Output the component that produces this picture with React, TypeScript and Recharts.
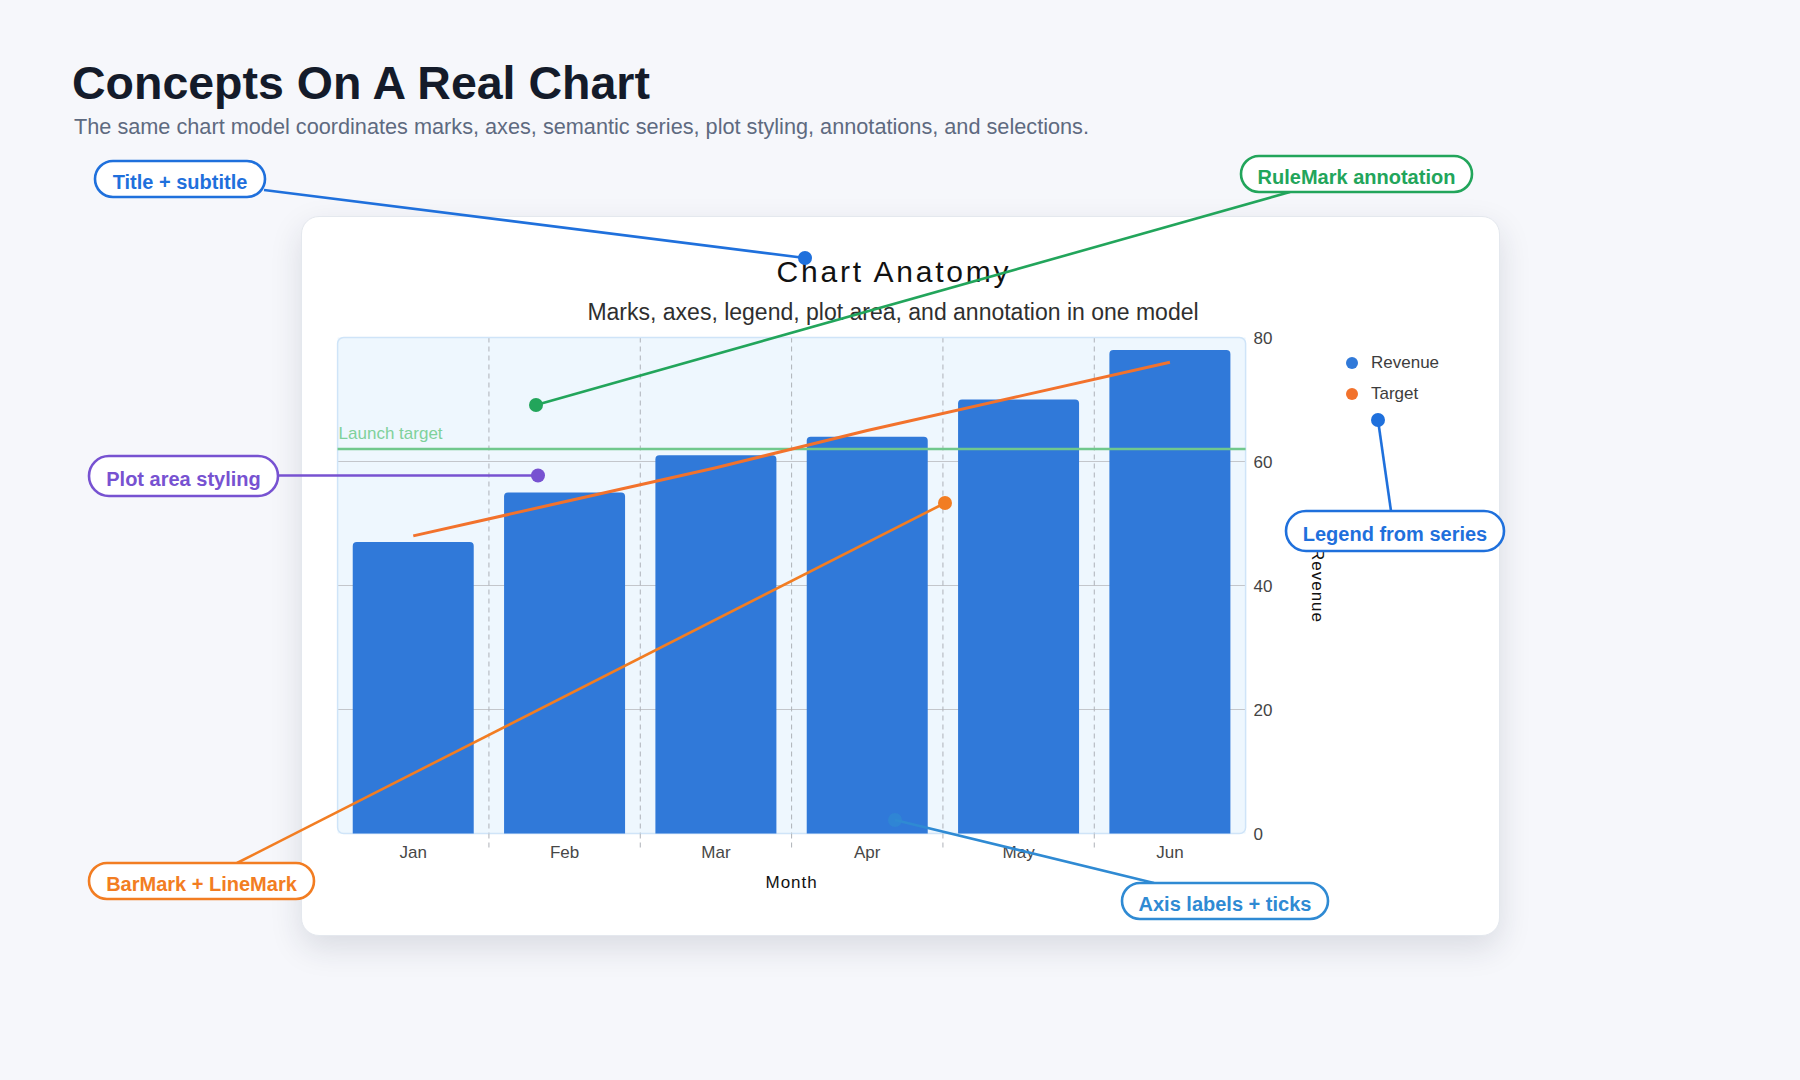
import {
  ComposedChart,
  Bar,
  Line,
  XAxis,
  YAxis,
  CartesianGrid,
  ReferenceLine,
  ReferenceArea,
  Legend,
} from 'recharts'

const months = ['Jan', 'Feb', 'Mar', 'Apr', 'May', 'Jun']
const revenue = [47, 55, 61, 64, 70, 78]
const target = [48, 53.5, 59, 65, 70.5, 76]
const launchTarget = 62
const revenueTicks = [0, 20, 40, 60, 80]
const gridValues = [20, 40, 60]

const chartData = months.map((month, i) => ({ month, revenue: revenue[i], target: target[i] }))

const FONT = '"Liberation Sans", Arial, Helvetica, sans-serif'
const CARD_W = 1199
const CARD_H = 720
const MARGIN = { top: 121.5, right: 164.4, bottom: 42.5, left: 36.6 }
const Y_AXIS_W = 90
const X_AXIS_H = 60
const PLOT_W = CARD_W - MARGIN.left - MARGIN.right - Y_AXIS_W
const BAND = PLOT_W / months.length
const GRID_DASH = '#aeb2b8'

// pill labels pointing at parts of the chart (page coordinates)
const callouts = [
  { text: 'Title + subtitle', color: '#1f70dc', box: [95, 161, 170, 36], from: [264, 190], to: [805, 258], dot: 1 },
  { text: 'RuleMark annotation', color: '#22a55b', box: [1241, 156, 231, 36], from: [1290, 192], to: [536, 405], dot: 1 },
  { text: 'Plot area styling', color: '#7752d1', box: [89, 456, 189, 40], from: [278, 475.5], to: [538, 475.5], dot: 1 },
  { text: 'Legend from series', color: '#1f70dc', box: [1286, 511, 218, 40], from: [1391, 511], to: [1378, 420], dot: 1 },
  { text: 'BarMark + LineMark', color: '#f27d22', box: [89, 863, 225, 36], from: [237, 863], to: [945, 503], dot: 1 },
  { text: 'Axis labels + ticks', color: '#2f8ad3', box: [1122, 883, 206, 36], from: [1154, 883], to: [895, 820], dot: 0.7 },
]

function MonthTick(props: any) {
  const { x, y, payload, index } = props
  return (
    <g>
      {index < months.length - 1 && (
        <line x1={x + BAND / 2} x2={x + BAND / 2} y1={y - 8} y2={y + 10} stroke={GRID_DASH} strokeDasharray="5 4" />
      )}
      <text x={x} y={y + 16.5} textAnchor="middle" fill="#474747" fontSize={17}>
        {payload.value}
      </text>
    </g>
  )
}

function LegendList(props: any) {
  const { payload } = props
  return (
    <ul style={{ listStyle: 'none', margin: 0, padding: 0 }}>
      {(payload || []).map((item: any) => (
        <li
          key={item.value}
          style={{ display: 'flex', alignItems: 'center', height: 31, fontSize: 17, color: '#3d3d3d' }}
        >
          <span
            style={{ width: 12, height: 12, borderRadius: '50%', background: item.color, marginRight: 13 }}
          />
          {item.value}
        </li>
      ))}
    </ul>
  )
}

function Callouts() {
  return (
    <svg
      width={1800}
      height={1080}
      style={{ position: 'absolute', left: 0, top: 0, pointerEvents: 'none', fontFamily: FONT }}
    >
      {callouts.map((c) => (
        <g key={c.text}>
          <line x1={c.from[0]} y1={c.from[1]} x2={c.to[0]} y2={c.to[1]} stroke={c.color} strokeWidth={2.6} />
          <circle cx={c.to[0]} cy={c.to[1]} r={7} fill={c.color} fillOpacity={c.dot} />
        </g>
      ))}
      {callouts.map((c) => {
        const [x, y, w, h] = c.box
        return (
          <g key={c.text + '-pill'}>
            <rect x={x} y={y} width={w} height={h} rx={h / 2} fill="#fff" stroke={c.color} strokeWidth={2.6} />
            <text x={x + w / 2} y={y + h / 2 + 10} textAnchor="middle" fontSize={20} fontWeight={700} fill={c.color}>
              {c.text}
            </text>
          </g>
        )
      })}
    </svg>
  )
}

export default function App() {
  return (
    <div
      style={{
        position: 'absolute',
        left: 0,
        top: 0,
        width: 1800,
        height: 1080,
        background: '#f6f7fb',
        fontFamily: FONT,
        overflow: 'hidden',
      }}
    >
      <svg width={1800} height={150} style={{ position: 'absolute', left: 0, top: 0 }}>
        <text x={72} y={99} fontSize={46.5} fontWeight={700} fill="#141b2a">
          Concepts On A Real Chart
        </text>
        <text x={74} y={133.5} fontSize={21.7} fill="#5e6a80">
          The same chart model coordinates marks, axes, semantic series, plot styling, annotations, and selections.
        </text>
      </svg>

      <div
        style={{
          position: 'absolute',
          left: 301,
          top: 216,
          width: CARD_W,
          height: CARD_H,
          background: '#fff',
          borderRadius: 18,
          border: '1px solid #e4e8ee',
          boxSizing: 'border-box',
          boxShadow: '0 12px 32px rgba(30, 41, 59, 0.13)',
        }}
      >
        <div style={{ position: 'absolute', left: -1, top: -1 }}>
          <ComposedChart width={CARD_W} height={CARD_H} data={chartData} margin={MARGIN} barCategoryGap="10%">
            <CartesianGrid vertical={false} fill="#eef7fe" stroke="#c3c6cb" horizontalValues={gridValues} />
            <CartesianGrid
              horizontal={false}
              stroke={GRID_DASH}
              strokeDasharray="5 4"
              verticalCoordinatesGenerator={({ offset }: any) =>
                months.slice(1).map((_, i) => offset.left + (offset.width * (i + 1)) / months.length)
              }
            />
            <ReferenceArea y1={0} y2={80} fill="none" stroke="#cfe4f8" strokeWidth={1.5} radius={6} ifOverflow="visible" />
            <XAxis
              dataKey="month"
              height={X_AXIS_H}
              axisLine={false}
              tickLine={false}
              interval={0}
              tick={(p: any) => <MonthTick {...p} />}
              label={{
                content: ({ viewBox }: any) => (
                  <text
                    x={viewBox.x + viewBox.width / 2}
                    y={viewBox.y + 54.5}
                    textAnchor="middle"
                    fontSize={17}
                    letterSpacing={1}
                    fill="#111"
                  >
                    Month
                  </text>
                ),
              }}
            />
            <YAxis
              orientation="right"
              width={Y_AXIS_W}
              domain={[0, 80]}
              ticks={revenueTicks}
              axisLine={false}
              tickLine={false}
              tick={{ fill: '#444', fontSize: 17 }}
              label={{
                content: ({ viewBox }: any) => {
                  const lx = viewBox.x + 72
                  const ly = viewBox.y + viewBox.height / 2
                  return (
                    <text
                      x={lx}
                      y={ly}
                      transform={`rotate(90, ${lx}, ${ly})`}
                      textAnchor="middle"
                      dominantBaseline="central"
                      fontSize={17}
                      letterSpacing={1}
                      fill="#111"
                    >
                      Revenue
                    </text>
                  )
                },
              }}
            />
            <Bar dataKey="revenue" name="Revenue" fill="#3079d9" radius={[4, 4, 0, 0]} isAnimationActive={false} />
            <ReferenceLine
              y={launchTarget}
              stroke="#70c88d"
              strokeWidth={2.5}
              label={{
                content: ({ viewBox }: any) => (
                  <text x={viewBox.x + 1} y={viewBox.y - 10} fontSize={17} fill="#7fd19b">
                    Launch target
                  </text>
                ),
              }}
            />
            <Line
              type="linear"
              dataKey="target"
              name="Target"
              stroke="#f2722c"
              strokeWidth={3}
              dot={false}
              activeDot={false}
              isAnimationActive={false}
            />
            <Legend
              layout="vertical"
              align="center"
              verticalAlign="middle"
              content={(p: any) => <LegendList {...p} />}
              wrapperStyle={{ left: 1045, top: 131.5, width: 'auto' }}
            />
          </ComposedChart>
        </div>

        <svg width={CARD_W} height={130} style={{ position: 'absolute', left: -1, top: -1, pointerEvents: 'none' }}>
          <text x={593} y={66} textAnchor="middle" fontSize={30} letterSpacing={2.8} fill="#111">
            Chart Anatomy
          </text>
          <text x={592} y={104} textAnchor="middle" fontSize={23} fill="#2f2f2f">
            Marks, axes, legend, plot area, and annotation in one model
          </text>
        </svg>
      </div>

      <Callouts />
    </div>
  )
}
